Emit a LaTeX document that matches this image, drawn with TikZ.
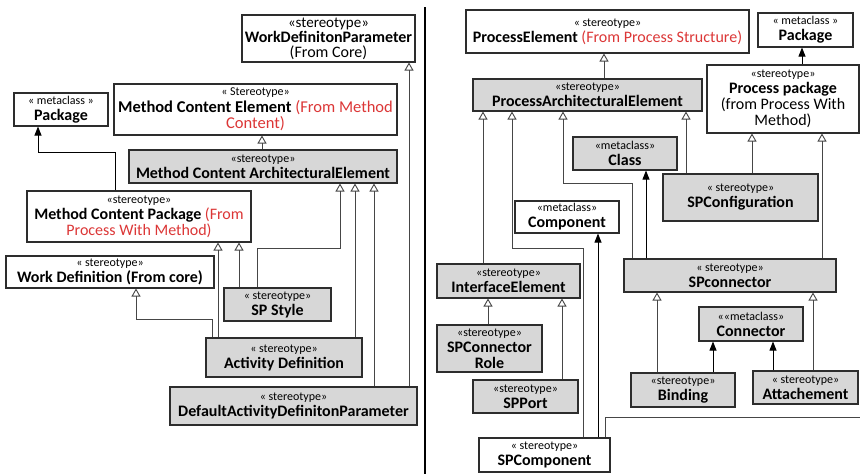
\documentclass[tikz,border=0pt]{standalone}
\usepackage{fontspec}
\setmainfont{Carlito}
\usetikzlibrary{arrows.meta}
\definecolor{boxgray}{RGB}{215,215,215}
\definecolor{frm}{RGB}{45,45,45}
\definecolor{ln}{RGB}{70,70,70}
\definecolor{rd}{RGB}{220,55,55}
\newcommand{\stt}[1]{{\fontsize{12}{12}\selectfont #1}}
\begin{document}
\begin{tikzpicture}[x=1pt,y=-1pt,
 box/.style={draw=frm, line width=1.1pt, fill=white, align=center, inner sep=0pt, font=\fontsize{16}{16}\selectfont},
 gbox/.style={box, fill=boxgray},
 gen/.style={draw=ln, line width=0.9pt, -{Triangle[open,width=9pt,length=8pt]}},
 dep/.style={draw=black, line width=0.9pt, -{Triangle[width=7pt,length=9pt]}},
 plain/.style={draw=ln, line width=0.9pt}
 ]
\useasboundingbox (0,0) rectangle (860,474);
\fill[white] (0,0) rectangle (860,474);
% divider
\draw[line width=2.8pt] (425,7) -- (425,474);

% ---------- left ----------
\node[box, minimum width=173pt, minimum height=47pt, font=\fontsize{16}{15}\selectfont] (wdp) at (328.5,38.5)
 {{\fontsize{15}{15}\selectfont «stereotype»}\\\textbf{WorkDefinitonParameter}\\(From Core)};
\node[box, minimum width=94pt, minimum height=33pt] (pkgL) at (61,109.5)
 {\stt{« metaclass »}\\\textbf{Package}};
\node[box, minimum width=283pt, minimum height=51pt, font=\fontsize{16.5}{16.5}\selectfont] (mce) at (255.5,109.5)
 {\stt{« Stereotype»}\\\textbf{Method Content Element} \textcolor{rd}{(From Method}\\\textcolor{rd}{Content)}};
\node[gbox, minimum width=268pt, minimum height=33pt] (mcae) at (263,166.5)
 {\stt{«stereotype»}\\\textbf{Method Content ArchitecturalElement}};
\node[box, minimum width=224pt, minimum height=51pt] (mcp) at (139,216.5)
 {\stt{«stereotype»}\\\textbf{Method Content Package} \textcolor{rd}{(From}\\\textcolor{rd}{Process With Method)}};
\node[box, minimum width=208pt, minimum height=32pt] (wd) at (110,272)
 {\stt{« stereotype»}\\\textbf{Work Definition (From core)}};
\node[gbox, minimum width=107pt, minimum height=33pt] (sps) at (277.5,304.5)
 {\stt{« stereotype»}\\\textbf{SP Style}};
\node[gbox, minimum width=156pt, minimum height=39pt] (ad) at (284,357.5)
 {\stt{« stereotype»}\\\textbf{Activity Definition}};
\node[gbox, minimum width=247pt, minimum height=38pt] (dadp) at (293.5,406)
 {\stt{« stereotype»}\\\textbf{DefaultActivityDefinitonParameter}};

% ---------- right ----------
\node[box, minimum width=283pt, minimum height=43pt] (pe) at (607.5,31.5)
 {\stt{« stereotype»}\\\textbf{ProcessElement} \textcolor{rd}{(From Process Structure)}};
\node[box, minimum width=95pt, minimum height=34pt] (pkgR) at (805.5,30)
 {\stt{« metaclass »}\\\textbf{Package}};
\node[box, minimum width=152pt, minimum height=68pt] (pp) at (783,99)
 {\stt{«stereotype»}\\\textbf{Process package}\\(from Process With\\Method)};
\node[gbox, minimum width=229pt, minimum height=32pt] (pae) at (587.5,95)
 {\stt{«stereotype»}\\\textbf{ProcessArchitecturalElement}};
\node[gbox, minimum width=104pt, minimum height=33pt] (cls) at (625,153.5)
 {\stt{«metaclass»}\\\textbf{Class}};
\node[gbox, minimum width=155pt, minimum height=47pt] (spconf) at (740.5,197.5)
 {\stt{« stereotype»}\\\textbf{SPConfiguration}};
\node[box, minimum width=104pt, minimum height=32pt] (comp) at (567,217)
 {\stt{«metaclass»}\\\textbf{Component}};
\node[gbox, minimum width=143pt, minimum height=34pt] (ie) at (508.5,281)
 {\stt{«stereotype»}\\\textbf{InterfaceElement}};
\node[gbox, minimum width=212pt, minimum height=33pt] (spconn) at (730,275.5)
 {\stt{« stereotype»}\\\textbf{SPconnector}};
\node[gbox, minimum width=104pt, minimum height=34pt] (conn) at (751,324)
 {\stt{««metaclass»}\\\textbf{Connector}};
\node[gbox, minimum width=105pt, minimum height=47pt] (spcr) at (489.5,348.5)
 {\stt{«stereotype»}\\\textbf{SPConnector}\\\textbf{Role}};
\node[gbox, minimum width=105pt, minimum height=33pt] (spport) at (525.5,396.5)
 {\stt{«stereotype»}\\\textbf{SPPort}};
\node[gbox, minimum width=104pt, minimum height=34pt] (bind) at (683,390)
 {\stt{«stereotype»}\\\textbf{Binding}};
\node[gbox, minimum width=105pt, minimum height=33pt] (att) at (805.5,387.5)
 {\stt{« stereotype»}\\\textbf{Attachement}};
\node[box, minimum width=131pt, minimum height=34pt] (spcomp) at (544.5,455)
 {\stt{« stereotype»}\\\textbf{SPComponent}};
\coordinate (offR) at (860,417);

% ---------- left connectors ----------
\draw[gen] (409,0 |- dadp.north) -- (409,0 |- wdp.south);
\draw[gen] (262,0 |- mcae.north) -- (262,0 |- mce.south);
\draw[dep] (115,0 |- mcp.north) -- (115,152) -- (38,152) -- (38,0 |- pkgL.south);
\draw[gen] (257,0 |- sps.north) -- (257,248) -- (340,248) -- (340,0 |- mcae.south);
\draw[gen] (355,0 |- ad.north) -- (355,0 |- mcae.south);
\draw[gen] (374,0 |- dadp.north) -- (374,0 |- mcae.south);
\draw[gen] (239,0 |- sps.north) -- (239,0 |- mcp.south);
\draw[gen] (218,0 |- ad.north) -- (218,0 |- mcp.south);
\draw[gen] (212,0 |- ad.north) -- (212,319) -- (136,319) -- (136,0 |- wd.south);

% ---------- right connectors ----------
\draw[gen] (604,0 |- pae.north) -- (604,0 |- pe.south);
\draw[dep] (802,0 |- pp.north) -- (802,0 |- pkgR.south);
\draw[gen] (483,0 |- ie.north) -- (483,0 |- pae.south);
\draw[gen] (583,0 |- spcomp.north) -- (583,248) -- (512,248) -- (512,0 |- pae.south);
\draw[gen] (632,0 |- spconn.north) -- (632,183) -- (563,183) -- (563,0 |- pae.south);
\draw[gen] (686,0 |- spconf.north) -- (686,0 |- pae.south);
\draw[dep] (646,0 |- spconn.north) -- (646,0 |- cls.south);
\draw[gen] (752,0 |- spconf.north) -- (752,0 |- pp.south);
\draw[gen] (822,0 |- spconn.north) -- (822,0 |- pp.south);
\draw[gen] (488,0 |- spcr.north) -- (488,0 |- ie.south);
\draw[gen] (562,0 |- spport.north) -- (562,0 |- ie.south);
\draw[gen] (657,0 |- bind.north) -- (657,0 |- spconn.south);
\draw[gen] (813,0 |- att.north) -- (813,0 |- spconn.south);
\draw[dep] (713,0 |- bind.north) -- (713,0 |- conn.south);
\draw[dep] (773,0 |- att.north) -- (773,0 |- conn.south);
\draw[dep] (598,0 |- spcomp.north) -- (598,0 |- comp.south);
\draw[plain] (605,0 |- spcomp.north) -- (605,0 |- offR) -- (offR);
\end{tikzpicture}
\end{document}
